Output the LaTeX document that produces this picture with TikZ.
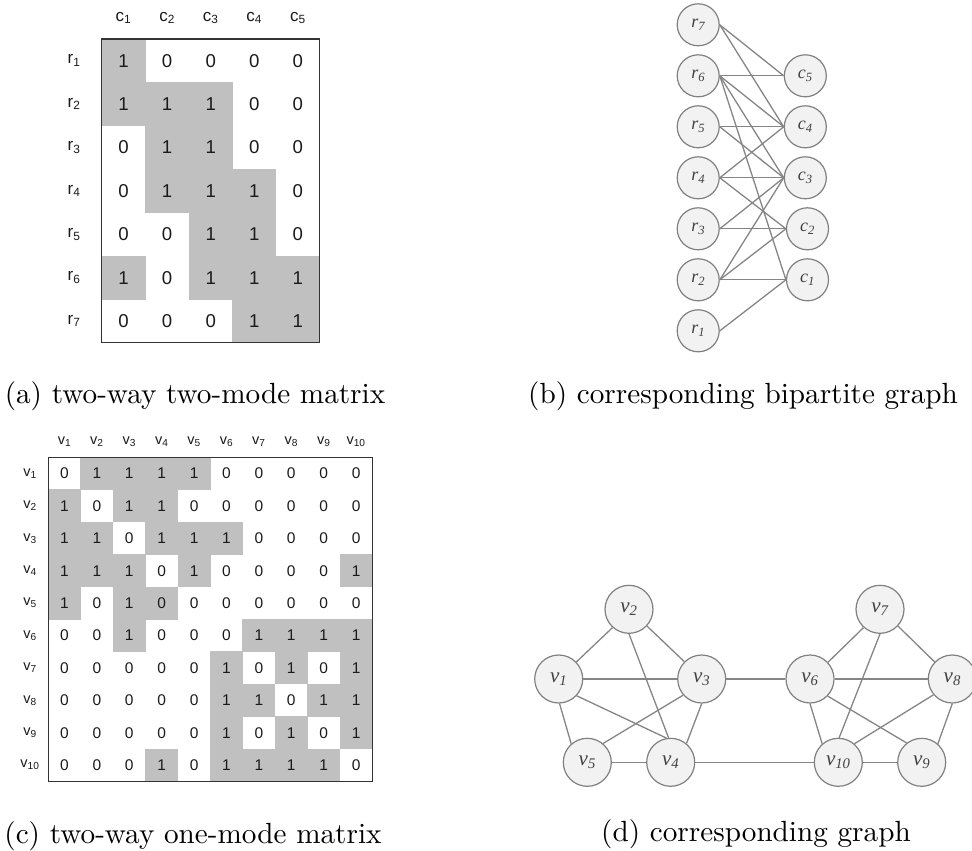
\documentclass[tikz,border=0pt]{standalone}
\usepackage{graphicx}
\usepackage{fontspec}
\newfontfamily\sansnum{Liberation Sans}
\newfontfamily\serifit{Liberation Serif}
\definecolor{cellgray}{HTML}{C0C0C0}
\definecolor{nodefill}{HTML}{F2F2F2}
\definecolor{nodeline}{HTML}{808080}
\definecolor{edgecol}{HTML}{858585}
\definecolor{labelcol}{HTML}{404040}
\definecolor{framecol}{HTML}{333333}
\definecolor{numcol}{HTML}{1A1A1A}
% caption text: 10pt design size, enlarged
\newcommand\captxt[1]{\scalebox{2.92}{\fontsize{10}{12}\selectfont #1}}

\begin{document}
\begin{tikzpicture}[x=1pt,y=-1pt,
  cellA/.style={minimum width=43.6pt,minimum height=43.4pt,inner sep=0pt,text=numcol,
    font=\sansnum\fontsize{18.6}{20}\selectfont},
  lblA/.style={inner sep=0pt,text=numcol,font=\sansnum\fontsize{17}{19}\selectfont},
  cellC/.style={minimum size=32.4pt,inner sep=0pt,text=numcol,
    font=\sansnum\fontsize{15.5}{17}\selectfont},
  lblC/.style={inner sep=0pt,text=numcol,font=\sansnum\fontsize{14.5}{16}\selectfont},
  bnode/.style={circle,draw=nodeline,fill=nodefill,line width=1.2pt,minimum size=42pt,
    inner sep=0pt,text=labelcol,font=\serifit\itshape\fontsize{18}{20}\selectfont},
  gnode/.style={bnode,minimum size=48pt,font=\serifit\itshape\fontsize{21}{24}\selectfont},
  link/.style={draw=edgecol,line width=1.3pt},
  frame/.style={draw=framecol,line width=1.3pt},
  captext/.style={anchor=base,inner sep=0pt}]
\useasboundingbox (0,0) rectangle (972,851);

% ---------- (a) two-mode matrix ----------
\def\axo{101.7}\def\ayo{39}\def\acw{43.6}\def\ach{43.4}
\foreach \row [count=\i] in {{1,0,0,0,0},{1,1,1,0,0},{0,1,1,0,0},{0,1,1,1,0},
                             {0,0,1,1,0},{1,0,1,1,1},{0,0,0,1,1}} {
  \foreach \v [count=\j] in \row {
    \ifnum\v>0
      \fill[cellgray] ({\axo+(\j-1)*\acw-0.3},{\ayo+(\i-1)*\ach-0.3})
        rectangle ({\axo+\j*\acw+0.3},{\ayo+\i*\ach+0.3});
    \fi
    \node[cellA] (a-\i-\j) at ({\axo+(\j-0.5)*\acw},{\ayo+(\i-0.5)*\ach}) {\v};
  }
}
\foreach \j in {1,...,5}
  \node[lblA] (ac-\j) at ({\axo+(\j-0.5)*\acw},18) {c\textsubscript{\j}};
\foreach \i in {1,...,7}
  \node[lblA] (ar-\i) at (74,{\ayo+(\i-0.5)*\ach}) {r\textsubscript{\i}};
\draw[frame] (\axo,\ayo) rectangle ({\axo+5*\acw},{\ayo+7*\ach});

% ---------- (c) one-mode matrix (2 = shaded cell holding 0) ----------
\def\cxo{48.3}\def\cyo{457.3}\def\cc{32.4}
\foreach \row [count=\i] in {
    {0,1,1,1,1,0,0,0,0,0},{1,0,1,1,0,0,0,0,0,0},{1,1,0,1,1,1,0,0,0,0},
    {1,1,1,0,1,0,0,0,0,1},{1,0,1,2,0,0,0,0,0,0},{0,0,1,0,0,0,1,1,1,1},
    {0,0,0,0,0,1,0,1,0,1},{0,0,0,0,0,1,1,0,1,1},{0,0,0,0,0,1,0,1,0,1},
    {0,0,0,1,0,1,1,1,1,0}} {
  \foreach \v [count=\j] in \row {
    \ifnum\v>0
      \fill[cellgray] ({\cxo+(\j-1)*\cc-0.3},{\cyo+(\i-1)*\cc-0.3})
        rectangle ({\cxo+\j*\cc+0.3},{\cyo+\i*\cc+0.3});
    \fi
    \node[cellC] (c-\i-\j) at ({\cxo+(\j-0.5)*\cc},{\cyo+(\i-0.5)*\cc})
      {\ifnum\v=2 0\else\v\fi};
  }
}
\foreach \j in {1,...,10}
  \node[lblC] (cc-\j) at ({\cxo+(\j-0.5)*\cc},441.5) {v\textsubscript{\j}};
\foreach \i in {1,...,10}
  \node[lblC] (cr-\i) at (30,{\cyo+(\i-0.5)*\cc}) {v\textsubscript{\i}};
\draw[frame] (\cxo,\cyo) rectangle ({\cxo+10*\cc},{\cyo+10*\cc});

% ---------- (b) bipartite graph ----------
\foreach \k in {1,...,7}
  \node[bnode] (r\k) at (698.2,{24.8+51*(7-\k)}) {r\textsubscript{\k}};
\node[bnode] (c5) at (805.3,75.8)  {c\textsubscript{5}};
\node[bnode] (c4) at (805.3,126.8) {c\textsubscript{4}};
\node[bnode] (c3) at (805.3,177.8) {c\textsubscript{3}};
\node[bnode] (c2) at (807.5,228.8) {c\textsubscript{2}};
\node[bnode] (c1) at (807.5,279.8) {c\textsubscript{1}};
\foreach \a/\b in {1/1,2/1,2/2,2/3,3/2,3/3,4/2,4/3,4/4,5/3,5/4,6/1,6/3,6/4,6/5,7/4,7/5}
  \draw[link] (r\a.east) -- (c\b.west);

% ---------- (d) graph ----------
\node[gnode] (v1)  at (558.7,679)   {v\textsubscript{1}};
\node[gnode] (v2)  at (629,609.3)   {v\textsubscript{2}};
\node[gnode] (v3)  at (701.7,679)   {v\textsubscript{3}};
\node[gnode] (v4)  at (670.7,762.3) {v\textsubscript{4}};
\node[gnode] (v5)  at (587.3,762.3) {v\textsubscript{5}};
\node[gnode] (v6)  at (810,679)     {v\textsubscript{6}};
\node[gnode] (v7)  at (880,609.3)   {v\textsubscript{7}};
\node[gnode] (v8)  at (952.3,679)   {v\textsubscript{8}};
\node[gnode] (v9)  at (921.7,762.3) {v\textsubscript{9}};
\node[gnode] (v10) at (838.3,762.3) {v\textsubscript{10}};
\draw[link] (v1.44) -- (v2.228);
\draw[link] (v1.east) -- (v3.west);
\draw[link] (v1.-88) -- (v5.131);
\draw[link] (v1.-43) -- (v4.100);
\draw[link] (v2.south) -- (v4.95);
\draw[link] (v2.-43) -- (v3.135);
\draw[link] (v3.-139) -- (v5.50);
\draw[link] (v3.south) -- (v4.50);
\draw[link] (v5.east) -- (v4.west);
\draw[link] (v3.east) -- (v6.west);
\draw[link] (v4.east) -- (v10.west);
\draw[link] (v6.43) -- (v7.-132);
\draw[link] (v6.east) -- (v8.west);
\draw[link] (v6.south) -- (v10.131);
\draw[link] (v6.-44) -- (v9.128);
\draw[link] (v7.-43) -- (v8.136);
\draw[link] (v7.south) -- (v10.88);
\draw[link] (v8.-140) -- (v10.49);
\draw[link] (v8.south) -- (v9.49);
\draw[link] (v10.east) -- (v9.west);

% ---------- captions ----------
\node[captext] (capa) at (195,403) {\captxt{(a) two-way two-mode matrix}};
\node[captext] (capb) at (743,403) {\captxt{(b) corresponding bipartite graph}};
\node[captext] (capc) at (193,843) {\captxt{(c) two-way one-mode matrix}};
\node[captext] (capd) at (756,841) {\captxt{(d) corresponding graph}};
\end{tikzpicture}
\end{document}
